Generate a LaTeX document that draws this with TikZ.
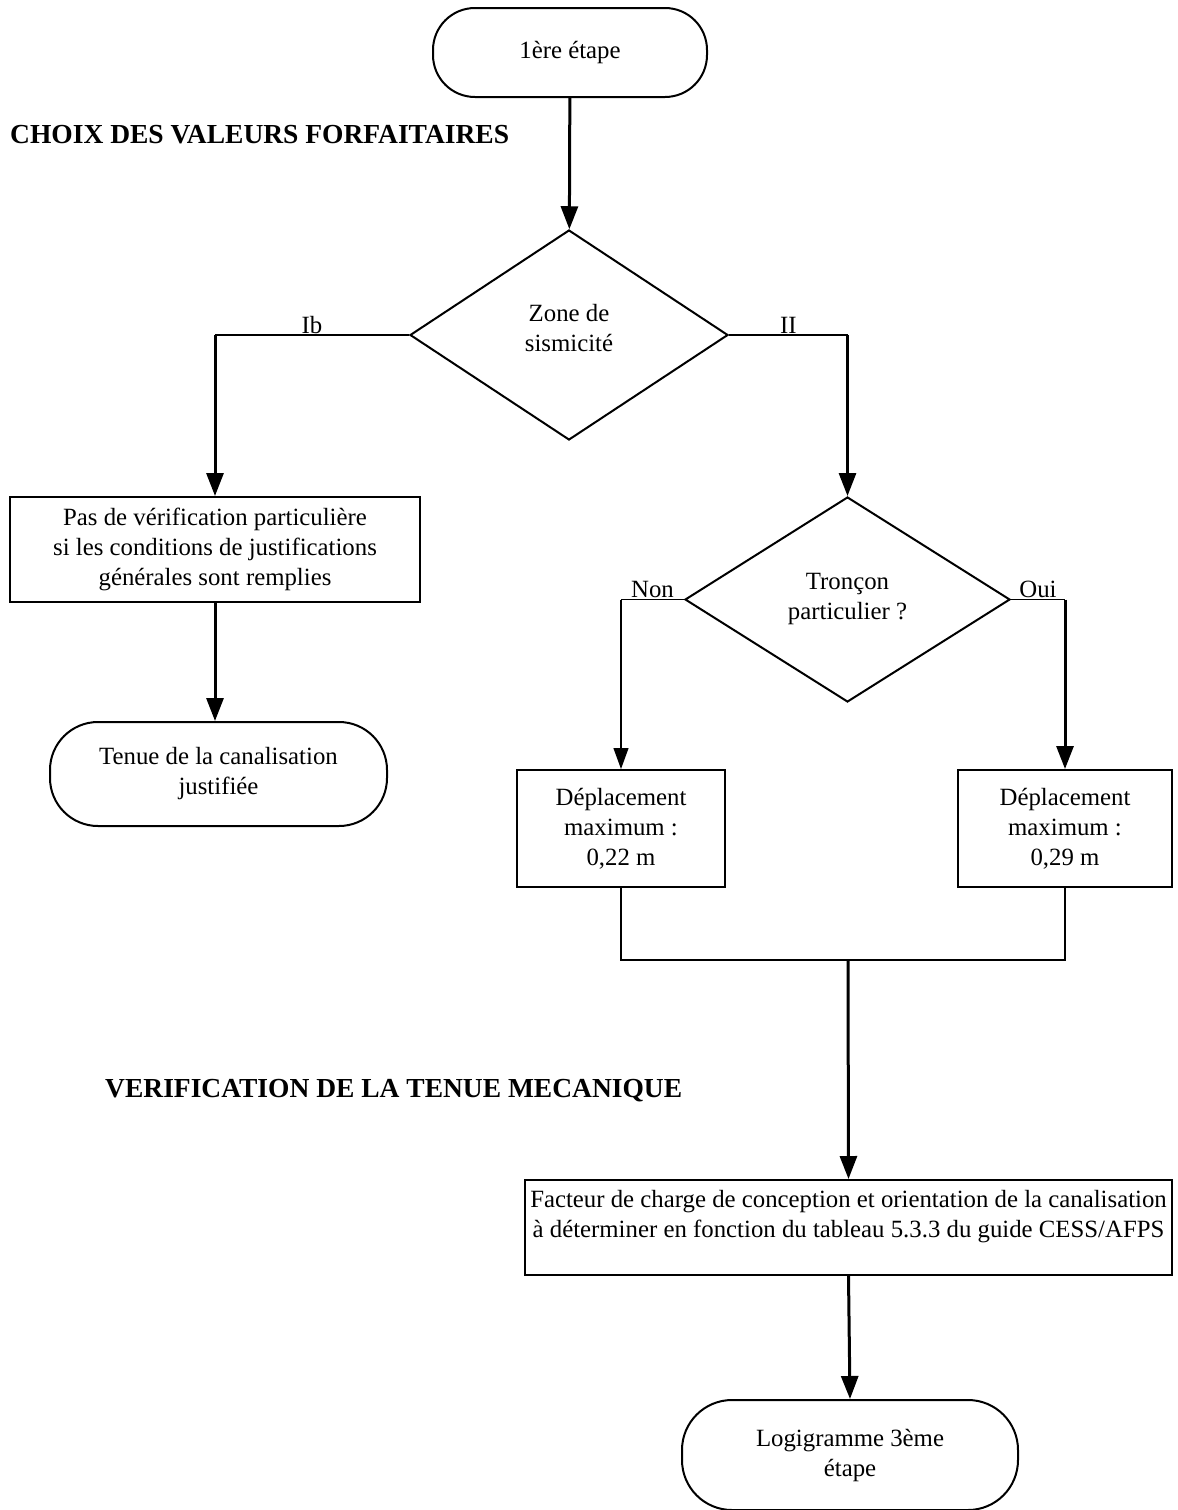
\documentclass[tikz,border=0pt]{standalone}
\usepackage{fontspec}
\setmainfont{Liberation Serif}
\usetikzlibrary{shapes.geometric,arrows.meta}
\begin{document}
\begin{tikzpicture}[x=1pt,y=-1pt,
 every node/.style={font=\fontsize{24.8}{30}\selectfont, align=center},
 term/.style={draw, line width=2pt, rounded corners=42pt, inner sep=0pt},
 boxs/.style={draw, line width=2pt, inner sep=0pt},
 dec/.style={draw, diamond, line width=2pt, inner sep=0pt},
 arr/.style={line width=3pt, -{Triangle[length=23pt,width=17pt]}},
 thinarr/.style={line width=1.1pt, -{Triangle[length=21pt,width=15pt]}},
 thinln/.style={line width=1.4pt},
 merge/.style={line width=2pt},
 title/.style={font=\fontsize{27.5}{32}\selectfont\bfseries, anchor=base west, inner sep=0pt},
 lab/.style={anchor=south, inner sep=1pt}]
\useasboundingbox (0,0) rectangle (1178,1510);

\node[term, minimum width=274pt, minimum height=89pt] (start) at (570,52.5) {1ère étape};
\node[title] (t1) at (10,143) {CHOIX DES VALEURS FORFAITAIRES};
\node[dec, minimum width=318pt, minimum height=210pt] (d1) at (569,335) {Zone de\\sismicité\\[-16pt]\mbox{}};
\node[boxs, minimum width=410pt, minimum height=105pt] (b1) at (215,549.5) {Pas de vérification particulière\\si les conditions de justifications\\générales sont remplies};
\node[term, minimum width=337pt, minimum height=104pt, rounded corners=48pt] (t2) at (218.5,774) {Tenue de la canalisation\\justifiée};
\node[dec, minimum width=325pt, minimum height=205pt] (d2) at (847.5,599.5) {Tronçon\\particulier ?};
\node[boxs, minimum width=208pt, minimum height=117pt] (b2) at (621,828.5) {Déplacement\\maximum :\\0,22 m};
\node[boxs, minimum width=214pt, minimum height=117pt] (b3) at (1065,828.5) {Déplacement\\maximum :\\0,29 m};
\node[title] (t3) at (105,1097) {VERIFICATION DE LA TENUE MECANIQUE};
\node[boxs, minimum width=647pt, minimum height=95pt] (b4) at (848.5,1227.5) {};
\node[inner sep=0pt] (b4t) at (848.5,1217) {Facteur de charge de conception et orientation de la canalisation\\à déterminer en fonction du tableau 5.3.3 du guide CESS/AFPS};
\node[term, minimum width=336pt, minimum height=110pt, rounded corners=50pt] (end) at (850,1455) {Logigramme 3ème\\étape};

\coordinate (m) at (848,960);

\draw[arr] (start) -- (d1);
\draw[thinln] (d1.west) -- node[lab] {Ib} (d1.west -| b1.north);
\draw[arr] (d1.west -| b1.north) -- (b1.north);
\draw[arr] (b1.south) -- (b1.south |- t2.north);
\draw[thinln] (d1.east) -- node[lab] {II} (d1.east -| d2.north);
\draw[arr] (d1.east -| d2.north) -- (d2.north);
\draw[thinln] (d2.west) -- node[lab] {Non} (d2.west -| b2.north);
\draw[thinarr] (d2.west -| b2.north) -- (b2.north);
\draw[thinln] (d2.east) -- node[lab] {Oui} (d2.east -| b3.north);
\draw[arr] (d2.east -| b3.north) -- (b3.north);
\draw[merge] (b2.south) |- (m) -| (b3.south);
\draw[arr] (m) -- (b4.north);
\draw[arr] (b4.south) -- (end.north);
\end{tikzpicture}
\end{document}
